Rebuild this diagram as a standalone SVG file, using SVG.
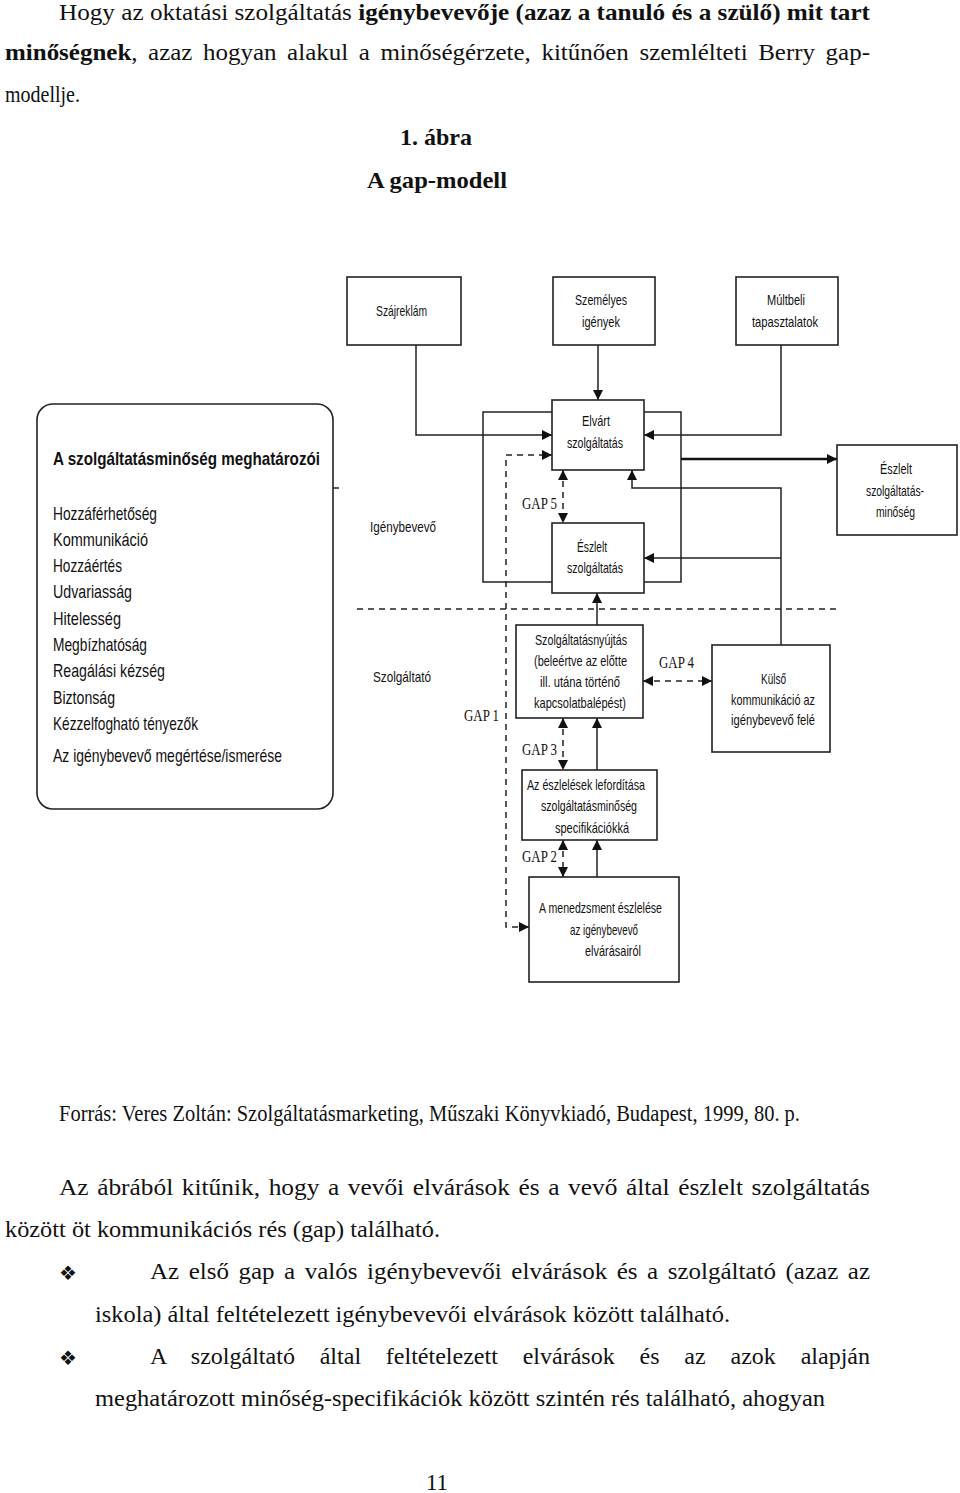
<svg xmlns="http://www.w3.org/2000/svg" width="960" height="1493" viewBox="0 0 960 1493">
<defs>
<style>
.body{font-family:"Liberation Serif","Times New Roman",serif;font-size:23px;fill:#111}
.b{font-weight:bold}
.d{font-family:"Liberation Sans Narrow","Liberation Sans",Arial,sans-serif;font-size:14.5px;fill:#111}
.lst{font-family:"Liberation Sans Narrow","Liberation Sans",Arial,sans-serif;font-size:19px;fill:#111}
.gap{font-family:"Liberation Serif","Times New Roman",serif;font-size:17px;fill:#111}
.box{fill:#fff;stroke:#222;stroke-width:1.6}
.ln{fill:none;stroke:#222;stroke-width:1.5}
.ds{fill:none;stroke:#222;stroke-width:1.5;stroke-dasharray:6 5}
.bul{font-family:"DejaVu Sans",sans-serif;font-size:20px;fill:#111}
</style>
<marker id="ah" markerUnits="userSpaceOnUse" markerWidth="10" markerHeight="10" refX="10" refY="5" orient="auto-start-reverse" viewBox="0 0 10 10">
<path d="M0,0 L10,5 L0,10 z" fill="#111"/>
</marker>
</defs>
<rect width="960" height="1493" fill="#fff"/>

<g id="text-top">
<text class="body" x="59" y="20" word-spacing="0" textLength="811" lengthAdjust="spacingAndGlyphs">Hogy az oktatási szolgáltatás <tspan class="b">igénybevevője (azaz a tanuló és a szülő) mit tart</tspan></text>
<text class="body" x="5" y="60" word-spacing="4" textLength="865" lengthAdjust="spacingAndGlyphs"><tspan class="b">minőségnek</tspan>, azaz hogyan alakul a minőségérzete, kitűnően szemlélteti Berry gap-</text>
<text class="body" x="5" y="102" textLength="75" lengthAdjust="spacingAndGlyphs">modellje.</text>
<text class="body b" x="436" y="145" text-anchor="middle" textLength="72" lengthAdjust="spacingAndGlyphs">1. ábra</text>
<text class="body b" x="437" y="188" text-anchor="middle" textLength="140" lengthAdjust="spacingAndGlyphs">A gap-modell</text>
</g>

<g id="connectors">
<path class="ln" d="M416,345 V435 H552" marker-end="url(#ah)"/>
<path class="ln" d="M598,345 V400" marker-end="url(#ah)"/>
<path class="ln" d="M781,345 V435 H644" marker-end="url(#ah)"/>
<path class="ln" d="M552,412 H483 V582 H552"/>
<path class="ln" d="M644,412 H681 V582 H644"/>
<path fill="none" stroke="#111" stroke-width="2.6" d="M681,459 H837" marker-end="url(#ah)"/>
<path class="ln" d="M781,645 V488 H632 V470" marker-end="url(#ah)"/>
<path class="ln" d="M781,558 H644" marker-end="url(#ah)"/>
<path class="ds" d="M563,470 V523" marker-start="url(#ah)" marker-end="url(#ah)"/>
<path class="ln" d="M597,625 V593" marker-end="url(#ah)"/>
<path class="ds" d="M643,681 H712" marker-start="url(#ah)" marker-end="url(#ah)"/>
<path class="ds" d="M563,718 V770" marker-start="url(#ah)" marker-end="url(#ah)"/>
<path class="ln" d="M597,770 V718" marker-end="url(#ah)"/>
<path class="ds" d="M563,840 V877" marker-start="url(#ah)" marker-end="url(#ah)"/>
<path class="ln" d="M597,877 V840" marker-end="url(#ah)"/>
<path class="ds" d="M529,927 H506 V455 H552" marker-start="url(#ah)" marker-end="url(#ah)"/>
<path class="ds" d="M357,609 H840"/>
<path class="ln" d="M333,488 H339"/>
</g>

<g id="n-szajreklam">
<rect class="box" x="347" y="277" width="114" height="68"/>
<text class="d" x="401.5" y="316" text-anchor="middle" textLength="51" lengthAdjust="spacingAndGlyphs">Szájreklám</text>
</g>
<g id="n-szemelyes">
<rect class="box" x="553" y="277" width="102" height="68"/>
<text class="d" x="601" y="305" text-anchor="middle" textLength="52" lengthAdjust="spacingAndGlyphs">Személyes</text>
<text class="d" x="601" y="327" text-anchor="middle" textLength="38" lengthAdjust="spacingAndGlyphs">igények</text>
</g>
<g id="n-multbeli">
<rect class="box" x="736" y="277" width="102" height="68"/>
<text class="d" x="786" y="305" text-anchor="middle" textLength="38" lengthAdjust="spacingAndGlyphs">Múltbeli</text>
<text class="d" x="785" y="327" text-anchor="middle" textLength="66" lengthAdjust="spacingAndGlyphs">tapasztalatok</text>
</g>
<g id="n-elvart">
<rect class="box" x="552" y="400" width="92" height="70"/>
<text class="d" x="596" y="426" text-anchor="middle" textLength="28" lengthAdjust="spacingAndGlyphs">Elvárt</text>
<text class="d" x="595" y="448" text-anchor="middle" textLength="56" lengthAdjust="spacingAndGlyphs">szolgáltatás</text>
</g>
<g id="n-eszlelt">
<rect class="box" x="552" y="523" width="92" height="70"/>
<text class="d" x="592" y="552" text-anchor="middle" textLength="30" lengthAdjust="spacingAndGlyphs">Észlelt</text>
<text class="d" x="595" y="573" text-anchor="middle" textLength="56" lengthAdjust="spacingAndGlyphs">szolgáltatás</text>
</g>
<g id="n-eszlelt-minoseg">
<rect class="box" x="837" y="445" width="120" height="90"/>
<text class="d" x="896" y="474" text-anchor="middle" textLength="32" lengthAdjust="spacingAndGlyphs">Észlelt</text>
<text class="d" x="895" y="496" text-anchor="middle" textLength="58" lengthAdjust="spacingAndGlyphs">szolgáltatás-</text>
<text class="d" x="895.5" y="517" text-anchor="middle" textLength="39" lengthAdjust="spacingAndGlyphs">minőség</text>
</g>
<g id="lbl-igenybevevo">
<text class="d" x="403" y="532" text-anchor="middle" textLength="66" lengthAdjust="spacingAndGlyphs">Igénybevevő</text>
</g>
<g id="lbl-szolgaltato">
<text class="d" x="402" y="682" text-anchor="middle" textLength="58" lengthAdjust="spacingAndGlyphs">Szolgáltató</text>
</g>
<g id="n-nyujtas">
<rect class="box" x="516" y="625" width="127" height="93"/>
<text class="d" x="581" y="645" text-anchor="middle" textLength="92" lengthAdjust="spacingAndGlyphs">Szolgáltatásnyújtás</text>
<text class="d" x="580.5" y="666" text-anchor="middle" textLength="93" lengthAdjust="spacingAndGlyphs">(beleértve az előtte</text>
<text class="d" x="580" y="687" text-anchor="middle" textLength="80" lengthAdjust="spacingAndGlyphs">ill. utána történő</text>
<text class="d" x="580" y="708" text-anchor="middle" textLength="92" lengthAdjust="spacingAndGlyphs">kapcsolatbalépést)</text>
</g>
<g id="n-kulso">
<rect class="box" x="712" y="645" width="118" height="107"/>
<text class="d" x="773.5" y="684" text-anchor="middle" textLength="25" lengthAdjust="spacingAndGlyphs">Külső</text>
<text class="d" x="773" y="705" text-anchor="middle" textLength="84" lengthAdjust="spacingAndGlyphs">kommunikáció az</text>
<text class="d" x="773" y="725" text-anchor="middle" textLength="84" lengthAdjust="spacingAndGlyphs">igénybevevő felé</text>
</g>
<g id="n-forditas">
<rect class="box" x="522" y="770" width="135" height="70"/>
<text class="d" x="527" y="790" textLength="118" lengthAdjust="spacingAndGlyphs">Az észlelések lefordítása</text>
<text class="d" x="541" y="811" textLength="96" lengthAdjust="spacingAndGlyphs">szolgáltatásminőség</text>
<text class="d" x="555" y="833" textLength="74" lengthAdjust="spacingAndGlyphs">specifikációkká</text>
</g>
<g id="n-menedzsment">
<rect class="box" x="529" y="877" width="150" height="105"/>
<text class="d" x="539" y="913" textLength="123" lengthAdjust="spacingAndGlyphs">A menedzsment észlelése</text>
<text class="d" x="570" y="935" textLength="68" lengthAdjust="spacingAndGlyphs">az igénybevevő</text>
<text class="d" x="585" y="956" textLength="56" lengthAdjust="spacingAndGlyphs">elvárásairól</text>
</g>
<g id="gap-labels">
<text class="gap" x="522" y="509" textLength="35" lengthAdjust="spacingAndGlyphs">GAP 5</text>
<text class="gap" x="659" y="668" textLength="35" lengthAdjust="spacingAndGlyphs">GAP 4</text>
<text class="gap" x="464" y="721" textLength="35" lengthAdjust="spacingAndGlyphs">GAP 1</text>
<text class="gap" x="522" y="755" textLength="35" lengthAdjust="spacingAndGlyphs">GAP 3</text>
<text class="gap" x="522" y="862" textLength="35" lengthAdjust="spacingAndGlyphs">GAP 2</text>
</g>
<g id="n-meghatarozok">
<rect class="box" x="37" y="404" width="296" height="405" rx="16" ry="16"/>
<text class="lst b" x="53" y="465" font-size="20" textLength="267" lengthAdjust="spacingAndGlyphs">A szolgáltatásminőség meghatározói</text>
<text class="lst" x="53" y="520" textLength="104" lengthAdjust="spacingAndGlyphs">Hozzáférhetőség</text>
<text class="lst" x="53" y="546" textLength="95" lengthAdjust="spacingAndGlyphs">Kommunikáció</text>
<text class="lst" x="53" y="572" textLength="69" lengthAdjust="spacingAndGlyphs">Hozzáértés</text>
<text class="lst" x="53" y="598" textLength="79" lengthAdjust="spacingAndGlyphs">Udvariasság</text>
<text class="lst" x="53" y="625" textLength="68" lengthAdjust="spacingAndGlyphs">Hitelesség</text>
<text class="lst" x="53" y="651" textLength="94" lengthAdjust="spacingAndGlyphs">Megbízhatóság</text>
<text class="lst" x="53" y="677" textLength="112" lengthAdjust="spacingAndGlyphs">Reagálási kézség</text>
<text class="lst" x="53" y="704" textLength="62" lengthAdjust="spacingAndGlyphs">Biztonság</text>
<text class="lst" x="53" y="730" textLength="145" lengthAdjust="spacingAndGlyphs">Kézzelfogható tényezők</text>
<text class="lst" x="53" y="762" textLength="229" lengthAdjust="spacingAndGlyphs">Az igénybevevő megértése/ismerése</text>
</g>

<g id="text-bottom">
<text class="body" x="59" y="1121" font-size="18" textLength="741" lengthAdjust="spacingAndGlyphs">Forrás: Veres Zoltán: Szolgáltatásmarketing, Műszaki Könyvkiadó, Budapest, 1999, 80. p.</text>
<text class="body" x="59" y="1195" word-spacing="2" textLength="811" lengthAdjust="spacingAndGlyphs">Az ábrából kitűnik, hogy a vevői elvárások és a vevő által észlelt szolgáltatás</text>
<text class="body" x="5" y="1237" textLength="435" lengthAdjust="spacingAndGlyphs">között öt kommunikációs rés (gap) található.</text>
<text class="bul" x="59" y="1280">❖</text>
<text class="body" x="150" y="1279" word-spacing="3" textLength="720" lengthAdjust="spacingAndGlyphs">Az első gap a valós igénybevevői elvárások és a szolgáltató (azaz az</text>
<text class="body" x="95" y="1322" textLength="635" lengthAdjust="spacingAndGlyphs">iskola) által feltételezett igénybevevői elvárások között található.</text>
<text class="bul" x="59" y="1365">❖</text>
<text class="body" x="150" y="1364" word-spacing="18" textLength="720" lengthAdjust="spacingAndGlyphs">A szolgáltató által feltételezett elvárások és az azok alapján</text>
<text class="body" x="95" y="1406" textLength="730" lengthAdjust="spacingAndGlyphs">meghatározott minőség-specifikációk között szintén rés található, ahogyan</text>
<text class="body" x="437" y="1490" text-anchor="middle">11</text>
</g>
</svg>
